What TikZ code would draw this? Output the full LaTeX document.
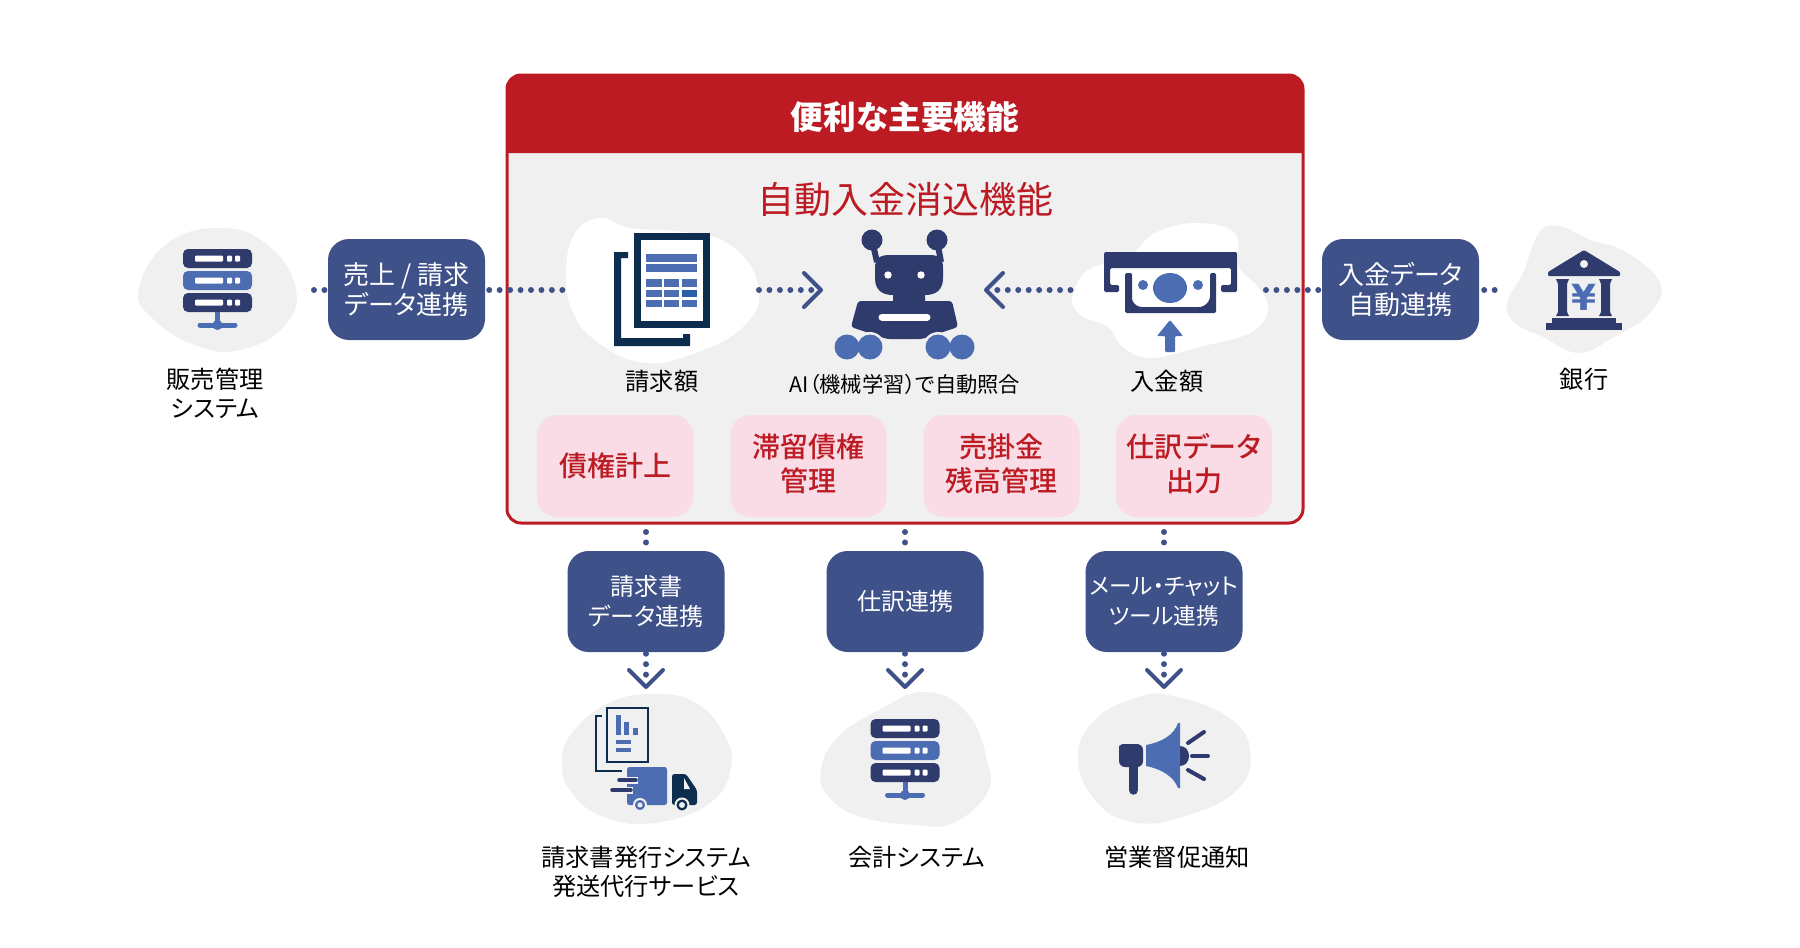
\documentclass[tikz,border=0pt]{standalone}
\usepackage{fontspec}
\setmainfont[RawFeature={+palt}]{Noto Sans CJK JP}
\newfontfamily\medfont[RawFeature={+palt}]{Noto Sans CJK JP Medium}
\newfontfamily\yenfont{DejaVu Sans}
\usetikzlibrary{arrows.meta}
\definecolor{navy}{HTML}{2F3A6D}
\definecolor{midblue}{HTML}{4D6DB3}
\definecolor{cellblue}{HTML}{2A5EA8}
\definecolor{deepblue}{HTML}{0C2D4E}
\definecolor{boxblue}{HTML}{3F5189}
\definecolor{softgrey}{HTML}{F0F0F0}
\definecolor{mainred}{HTML}{BC1B23}
\definecolor{softpink}{HTML}{F9DCE5}
\tikzset{
  x=1pt,y=-1pt,
  linkbox/.style={rectangle,fill=boxblue,rounded corners=21pt,minimum height=101pt,minimum width=157pt,inner sep=0pt,text=white,align=center,font=\fontsize{26}{30}\selectfont},
  lowerbox/.style={linkbox,font=\fontsize{24}{29.5}\selectfont},
  featbox/.style={rectangle,fill=softpink,rounded corners=20pt,minimum width=156pt,minimum height=102pt,inner sep=0pt},
  feattext/.style={inner sep=0pt,text=mainred,align=center,font=\fontsize{28}{34}\medfont},
  caption/.style={inner sep=0pt,align=center,text=black,font=\fontsize{24.2}{29}\selectfont},
  dotline/.style={draw=boxblue,line width=6pt,line cap=round,dash pattern=on 0pt off 10.45pt},
  chevtip/.style={-{Straight Barb[length=17pt,width=34pt,line width=4pt,round]}},
  serverpic/.pic={
    \foreach \yy in {0,22,44}{
      \ifnum\yy=22 \fill[midblue,rounded corners=5pt] (0,\yy) rectangle (69,\yy+19);
      \else \fill[navy,rounded corners=5pt] (0,\yy) rectangle (69,\yy+19);\fi
      \fill[white,rounded corners=1pt] (12,\yy+6.5) rectangle (40,\yy+12.5);
      \fill[white,rounded corners=1pt] (44,\yy+6.5) rectangle (49,\yy+12.5);
      \fill[white,rounded corners=1pt] (52,\yy+6.5) rectangle (57,\yy+12.5);
    }
    \fill[midblue] (32,63) rectangle (37,76);
    \draw[midblue,line width=5pt,line cap=round] (17,76) -- (52,76);
    \fill[midblue] (34.5,76) circle (5pt);
  }
}
\begin{document}
\begin{tikzpicture}
\useasboundingbox (0,0) rectangle (1800,948);
\fill[white] (0,0) rectangle (1800,948);
% outer blobs
\fill[softgrey] plot[smooth cycle,tension=.75] coordinates {(139,288)(168,243)(220,228)(265,243)(295,285)(285,325)(240,350)(195,345)(152,318)};
\fill[softgrey] plot[smooth cycle,tension=.7] coordinates {(1507,303)(1523,273)(1539,233)(1559,226)(1591,240)(1626,252)(1660,283)(1650,313)(1614,337)(1579,353)(1543,337)(1515,323)};
\fill[softgrey] plot[smooth cycle,tension=.75] coordinates {(562,763)(572,733)(609,703)(655,694)(696,703)(723,733)(731,767)(710,803)(655,823)(604,817)(572,793)};
\fill[softgrey] plot[smooth cycle,tension=.75] coordinates {(821,770)(838,737)(879,710)(925,692)(967,713)(987,760)(987,793)(953,823)(916,825)(861,817)(829,797)};
\fill[softgrey] plot[smooth cycle,tension=.75] coordinates {(1078,757)(1095,720)(1136,698)(1173,696)(1228,717)(1250,750)(1237,790)(1182,817)(1132,822)(1095,800)};
% main panel
\fill[softgrey,rounded corners=14pt] (507,75) rectangle (1303,523);
\fill[mainred] (507,153) [rounded corners=14pt] -- (507,75) -- (1303,75) [sharp corners] -- (1303,153) -- cycle;
\draw[mainred,line width=3pt,rounded corners=14pt] (507,75) rectangle (1303,523);
\node[inner sep=0pt,text=white,font=\fontsize{32.7}{36}\bfseries\selectfont] (headline) at (905,117) {便利な主要機能};
\node[inner sep=0pt,text=mainred,font=\fontsize{37}{40}\selectfont] (subhead) at (905,199) {自動入金消込機能};
% white blobs
\fill[white] plot[smooth cycle,tension=.75] coordinates {(566,275)(574,235)(600,218)(630,228)(683,232)(730,245)(758,285)(745,325)(690,355)(640,362)(595,340)(572,310)};
\fill[white] plot[smooth cycle,tension=.65] coordinates {(1072,300)(1088,270)(1127,258)(1155,233)(1195,223)(1235,233)(1239,267)(1258,287)(1268,310)(1250,333)(1199,347)(1151,358)(1123,347)(1108,327)(1084,317)};
% link boxes
\node[linkbox] (sync1) at (406.5,289.5) {売上 / 請求\\データ連携};
\node[linkbox] (sync2) at (1400.5,289.5) {入金データ\\自動連携};
\node[lowerbox] (sync3) at (646,601.5) {請求書\\データ連携};
\node[lowerbox] (sync4) at (905,601.5) {仕訳連携};
\node[lowerbox,font=\fontsize{22.6}{29.5}\selectfont] (sync5) at (1164,601.5) {メール・チャット\\ツール連携};
% connector ends
\coordinate (salesR) at (314,290);
\coordinate (docL) at (563,290);
\coordinate (docR) at (759,290);
\coordinate (arrowL) at (823,290);
\coordinate (cashL) at (1070.5,290);
\coordinate (arrowR) at (984,290);
\coordinate (cashR) at (1266,290);
\coordinate (bankL) at (1495,290);
\coordinate (topa) at (646,532);
\coordinate (topb) at (905,532);
\coordinate (topc) at (1164,532);
\coordinate (tipa) at (646,689);
\coordinate (tipb) at (905,689);
\coordinate (tipc) at (1164,689);
% connectors
\draw[dotline] (salesR) -- (sync1.west |- salesR);
\draw[dotline,shorten <=4pt] (sync1.east |- docL) -- (docL);
\draw[dotline,chevtip] (docR) -- (arrowL);
\draw[dotline,chevtip] (cashL) -- (arrowR);
\draw[dotline] (cashR) -- (sync2.west |- cashR);
\draw[dotline,shorten <=5pt] (sync2.east |- bankL) -- (bankL);
\draw[dotline] (topa) -- (sync3.north);
\draw[dotline] (topb) -- (sync4.north);
\draw[dotline] (topc) -- (sync5.north);
\draw[dotline,chevtip,shorten <=1.5pt] (sync3.south) -- (tipa);
\draw[dotline,chevtip,shorten <=1.5pt] (sync4.south) -- (tipb);
\draw[dotline,chevtip,shorten <=1.5pt] (sync5.south) -- (tipc);
% feature boxes
\node[featbox] (f1) at (615,466) {};
\node[feattext] (f1t) at (f1.center) {債権計上};
\node[featbox] (f2) at (808.5,466) {};
\node[feattext] (f2t) at ([yshift=2pt]f2.center) {滞留債権\\管理};
\node[featbox] (f3) at (1001.5,466) {};
\node[feattext] (f3t) at ([yshift=2pt]f3.center) {売掛金\\残高管理};
\node[featbox] (f4) at (1194,466) {};
\node[feattext] (f4t) at ([yshift=2pt]f4.center) {仕訳データ\\出力};
% captions
\node[caption] (t1) at (215,393.5) {販売管理\\システム};
\node[caption] (t2) at (662,381.5) {請求額};
\node[caption,font=\fontsize{21.3}{24}\selectfont] (t3) at (905,384.5) {AI（機械学習）で自動照合};
\node[caption] (t4) at (1167,381.5) {入金額};
\node[caption] (t5) at (1584,379) {銀行};
\node[caption] (t6) at (646,872) {請求書発行システム\\発送代行サービス};
\node[caption] (t7) at (917,857.5) {会計システム};
\node[caption] (t8) at (1177,857.5) {営業督促通知};
% servers
\pic at (183,249) {serverpic};
\pic at (870.5,719) {serverpic};
% doc icon
\fill[deepblue] (614,252) -- (628,252) -- (628,258) -- (621,258) -- (621,338) -- (683,338) -- (683,334) -- (690,334) -- (690,346) -- (614,346) -- cycle;
\fill[deepblue] (634,233) rectangle (710,328);
\fill[white] (641,240) rectangle (703,321);
\fill[midblue] (646,254) rectangle (697,262);
\fill[midblue] (646,264) rectangle (697,272);
\foreach \ya/\yb in {279/287,290/297,300/307}{
  \fill[midblue] (646,\ya) rectangle (662,\yb);
  \fill[midblue] (664,\ya) rectangle (679,\yb);
  \fill[midblue] (682,\ya) rectangle (697,\yb);
}
\fill[cellblue] (682,290) rectangle (697,297);
% robot
\draw[navy,line width=6pt] (872,240) -- (877,262);
\draw[navy,line width=6pt] (937,240) -- (941,262);
\fill[navy] (872,240) circle (10.5pt);
\fill[navy] (937,240) circle (10.5pt);
\fill[navy] (875,268) .. controls (875,258) and (880,255) .. (890,255) -- (929,255) .. controls (939,255) and (943,258) .. (943,268) -- (943,278) .. controls (943,290) and (936,295) .. (925,295) -- (925,302) -- (893,302) -- (893,295) .. controls (882,295) and (875,290) .. (875,278) -- cycle;
\fill[white] (888,275) circle (3.7pt);
\fill[white] (921,275) circle (3.7pt);
\fill[navy,rounded corners=3pt] (858,301) -- (952,301) -- (958,327) -- (922,339) -- (887,339) -- (851,327) -- cycle;
\draw[white,line width=7pt,line cap=round] (882,317) -- (927,317);
\foreach \wx in {847,870,938,962}{\fill[softgrey] (\wx,347) circle (15pt);}
\foreach \wx in {847,870,938,962}{\fill[midblue] (\wx,347) circle (12.5pt);}
% cash icon
\fill[navy,rounded corners=1.5pt] (1104,252) -- (1237,252) -- (1237,292) -- (1221,292) -- (1221,285) -- (1231,285) -- (1231,268) -- (1110,268) -- (1110,285) -- (1119,285) -- (1119,292) -- (1104,292) -- cycle;
\fill[navy,rounded corners=1.5pt] (1125,273) -- (1132,273) -- (1132,297) .. controls (1132,302) and (1136,306) .. (1141,307) -- (1200,307) .. controls (1205,306) and (1209,302) .. (1210,297) -- (1210,273) -- (1216,273) -- (1216,313) -- (1125,313) -- cycle;
\fill[midblue] (1170,288) ellipse (17pt and 15pt);
\fill[midblue] (1143,285) ellipse (5pt and 5pt);
\fill[midblue] (1198,285) ellipse (5pt and 5pt);
\fill[midblue,rounded corners=1pt] (1170,320) -- (1183,336) -- (1175,336) -- (1175,352) -- (1165,352) -- (1165,336) -- (1157,336) -- cycle;
% bank icon
\fill[navy,rounded corners=1pt] (1584,250) -- (1620,272) -- (1620,276) -- (1548,276) -- (1548,272) -- cycle;
\fill[softgrey] (1584,264) circle (4pt);
\fill[navy] (1556,279) -- (1569,279) -- (1567,284) -- (1567,312) -- (1569,316) -- (1556,316) -- (1558,312) -- (1558,284) -- cycle;
\fill[navy] (1599,279) -- (1612,279) -- (1610,284) -- (1610,312) -- (1612,316) -- (1599,316) -- (1601,312) -- (1601,284) -- cycle;
\node[inner sep=0pt,text=midblue,font=\fontsize{36}{36}\yenfont\bfseries\selectfont] (yen) at (1584,297) {¥};
\fill[navy] (1552,318) rectangle (1616,323);
\fill[navy] (1546,323) rectangle (1622,330);
% invoice and truck icon
\draw[deepblue,line width=2.5pt] (607,708) rectangle (648,762);
\draw[deepblue,line width=2.5pt] (602,716) -- (596,716) -- (596,771) -- (622,771);
\fill[midblue] (616,715) rectangle (621,735);
\fill[midblue] (624,722) rectangle (629,735);
\fill[midblue] (633,728) rectangle (638,735);
\draw[midblue,line width=3.5pt] (616,742) -- (631,742);
\draw[midblue,line width=3.5pt] (616,750) -- (631,750);
\fill[midblue,rounded corners=2.5pt] (627,767) rectangle (667,805);
\fill[deepblue,rounded corners=2.5pt] (672,805) -- (672,774) -- (686,774) -- (697,790) -- (697,805) -- cycle;
\fill[softgrey] (684,778) -- (690,789) -- (684,789) -- cycle;
\fill[midblue,draw=softgrey,line width=2pt] (640,805) circle (6pt);
\fill[softgrey] (640,805) circle (2.5pt);
\fill[deepblue,draw=softgrey,line width=2pt] (682,805) circle (6.5pt);
\fill[softgrey] (682,805) circle (3pt);
\draw[softgrey,line width=7pt] (616,780) -- (638,780);
\draw[softgrey,line width=7pt] (609,790) -- (633,790);
\draw[navy,line width=3.5pt,line cap=round] (619,780) -- (636,780);
\draw[navy,line width=3.5pt,line cap=round] (612,790) -- (631,790);
% megaphone
\fill[navy,rounded corners=6pt] (1119,767) -- (1119,752) .. controls (1119,746) and (1123,744) .. (1128,744) -- (1143,744) -- (1143,767) -- cycle;
\draw[navy,line width=9.5pt,line cap=round] (1133.5,762) -- (1133.5,790);
\fill[navy] (1180,746) .. controls (1192,746) and (1192,766) .. (1180,766) -- cycle;
\fill[midblue] (1146,745) .. controls (1162,742) and (1174,735) .. (1178,723) -- (1180,723) -- (1180,788) -- (1178,788) .. controls (1174,777) and (1162,769) .. (1146,766) -- cycle;
\draw[navy,line width=4pt,line cap=round] (1188,743) -- (1204,732);
\draw[navy,line width=4pt,line cap=round] (1192,756) -- (1208,756);
\draw[navy,line width=4pt,line cap=round] (1188,770) -- (1204,779);
\end{tikzpicture}
\end{document}
